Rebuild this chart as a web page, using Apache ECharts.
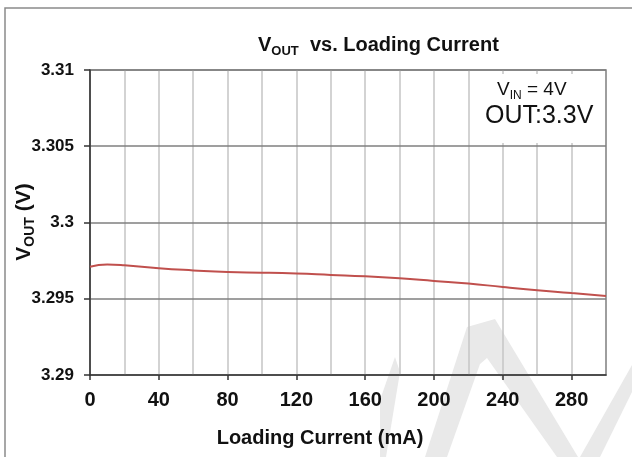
<!DOCTYPE html>
<html>
<head>
<meta charset="utf-8">
<script src="https://cdn.jsdelivr.net/npm/echarts@6/dist/echarts.min.js"></script>
<style>html,body{margin:0;padding:0;background:#fff}#c{width:632px;height:457px}</style>
</head>
<body>
<div id="c"></div>
<script>
var currents = [0, 10, 20, 40, 60, 80, 100, 120, 140, 160, 180, 200, 220, 240, 260, 280, 300];
var vout = [3.2971, 3.29725, 3.2972, 3.2970, 3.29686, 3.29675, 3.29671, 3.29665, 3.29656, 3.29647, 3.29634, 3.29617, 3.2960, 3.29577, 3.29556, 3.29538, 3.29518];
var xTickLabels = [0, 40, 80, 120, 160, 200, 240, 280];
var yTickLabels = [3.29, 3.295, 3.3, 3.305, 3.31];

var chart = echarts.init(document.getElementById('c'), null, {renderer: 'canvas'});
var F = 'Liberation Sans, Arial, sans-serif';
var data = currents.map(function (c, i) { return [c, vout[i]]; });

chart.setOption({
  backgroundColor: '#fff',
  animation: false,
  grid: {left: 90, top: 70, width: 516, height: 305, show: true, borderColor: '#7f7f7f', borderWidth: 1.5, containLabel: false},
  xAxis: [{
    type: 'value', min: 0, max: 300, interval: 20,
    axisLine: {show: true, lineStyle: {color: '#333', width: 1.5}},
    axisTick: {show: true, customValues: xTickLabels, length: 5, lineStyle: {color: '#333', width: 1.5}},
    axisLabel: {customValues: xTickLabels, margin: 15, color: '#111', fontFamily: F, fontWeight: 'bold', fontSize: 20},
    splitLine: {show: false},
    z: 3
  }, {
    type: 'value', min: 0, max: 300, interval: 20, position: 'bottom',
    axisLine: {show: false}, axisTick: {show: false}, axisLabel: {show: false},
    splitLine: {show: true, showMaxLine: false, showMinLine: false, lineStyle: {color: '#c4c4c4', width: 1.5}},
    z: 1
  }],
  yAxis: {
    type: 'value', min: 3.29, max: 3.31, interval: 0.005,
    axisLine: {show: true, lineStyle: {color: '#333', width: 1.5}},
    axisTick: {show: true, length: 6, lineStyle: {color: '#333', width: 1.5}},
    axisLabel: {margin: 16, color: '#111', fontFamily: F, fontWeight: 'bold', fontSize: 17,
      formatter: function (v) { return String(parseFloat(v.toFixed(3))); }},
    splitLine: {show: true, showMinLine: false, lineStyle: {color: '#7f7f7f', width: 1.5}},
    z: 2
  },
  series: [{
    type: 'line', data: data, xAxisIndex: 0, smooth: true, showSymbol: false, symbol: 'none',
    lineStyle: {color: '#c0504d', width: 2}, z: 5
  }],
  graphic: [
    {type: 'rect', z: 100, shape: {x: 5, y: 8, width: 700, height: 600}, style: {fill: 'none', stroke: '#8a8a8a', lineWidth: 1.5}},
    {type: 'polygon', z: -10, shape: {points: [[425,457],[467,327],[495,319],[578,457],[557,457],[487,358],[480,364],[447,457]]}, style: {fill: '#e9e9e9'}},
    {type: 'polygon', z: -10, shape: {points: [[580,457],[632,365],[632,392],[600,457]]}, style: {fill: '#e9e9e9'}},
    {type: 'polygon', z: -10, shape: {points: [[380,400],[395,357],[400,372],[386,457],[380,457]]}, style: {fill: '#e9e9e9'}},
    {type: 'rect', z: 50, shape: {x: 471, y: 74, width: 133, height: 69}, style: {fill: '#fff'}},
    {type: 'text', z: 100, left: 258, top: 35, style: {
      text: '{m|V}{s|OUT}{m|  vs. Loading Current}', fill: '#111',
      rich: {m: {fontFamily: F, fontWeight: 'bold', fontSize: 20, lineHeight: 26, verticalAlign: 'middle'},
             s: {fontFamily: F, fontWeight: 'bold', fontSize: 13, lineHeight: 13, verticalAlign: 'bottom'}}}},
    {type: 'text', z: 100, x: 24, y: 222, rotation: Math.PI / 2, style: {
      text: '{m|V}{s|OUT}{m| (V)}', fill: '#111', align: 'center', verticalAlign: 'middle',
      rich: {m: {fontFamily: F, fontWeight: 'bold', fontSize: 21, lineHeight: 27, verticalAlign: 'middle'},
             s: {fontFamily: F, fontWeight: 'bold', fontSize: 14, lineHeight: 14, verticalAlign: 'bottom'}}}},
    {type: 'text', z: 100, x: 320, y: 438, style: {
      text: 'Loading Current (mA)', fill: '#111', align: 'center', verticalAlign: 'middle',
      fontFamily: F, fontWeight: 'bold', fontSize: 20}},
    {type: 'text', z: 100, left: 497, top: 80, style: {
      text: '{m|V}{s|IN}{m| = 4V}', fill: '#111',
      rich: {m: {fontFamily: F, fontSize: 19, lineHeight: 24, verticalAlign: 'middle'},
             s: {fontFamily: F, fontSize: 12, lineHeight: 12, verticalAlign: 'bottom'}}}},
    {type: 'text', z: 100, left: 485, top: 104, style: {
      text: 'OUT:3.3V', fill: '#111', fontFamily: F, fontSize: 25}}
  ]
});
</script>
</body>
</html>
